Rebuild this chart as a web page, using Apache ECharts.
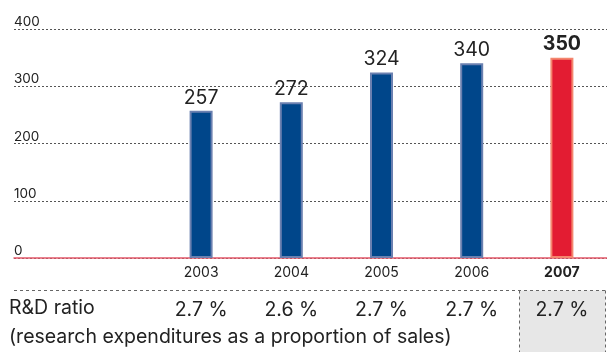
<!DOCTYPE html>
<html>
<head>
<meta charset="utf-8">
<script src="https://cdn.jsdelivr.net/npm/echarts@6/dist/echarts.min.js"></script>
<style>
  html, body { margin: 0; padding: 0; background: #ffffff; }
  #chart { width: 607px; height: 352px; }
</style>
</head>
<body>
<div id="chart"></div>
<script>
// R&D expenditure by year, with the R&D ratio underneath
const years = ['2003', '2004', '2005', '2006', '2007'];
const rdSpend = [257, 272, 324, 340, 350];
const rdRatio = ['2.7 %', '2.6 %', '2.7 %', '2.7 %', '2.7 %'];
const highlightYear = '2007';
const ratioCaption = 'R&D ratio';
const ratioNote = '(research expenditures as a proportion of sales)';

const FONT = 'Inter, "Liberation Sans", Arial, sans-serif';
const TEXT = '#222222';

const chart = echarts.init(document.getElementById('chart'), null, { renderer: 'canvas' });

const barData = rdSpend.map((v, i) => {
  const hot = years[i] === highlightYear;
  return {
    value: v,
    itemStyle: hot
      ? { color: '#e31c32', borderColor: '#f4866e', borderWidth: 2 }
      : { color: '#00468a', borderColor: '#6b80b0', borderWidth: 2 },
    label: { fontWeight: hot ? 'bold' : 'normal' }
  };
});

chart.setOption({
  animation: false,
  textStyle: { fontFamily: FONT },
  grid: [
    { left: 14, right: 0, top: 29, bottom: 94 },
    { left: 156, width: 455, top: 29, bottom: 94 }
  ],
  xAxis: [
    {
      gridIndex: 0, type: 'category', data: [''],
      axisLine: { show: true, lineStyle: { color: '#e3586a', width: 1.5 } },
      axisTick: { show: false }, axisLabel: { show: false }, splitLine: { show: false }
    },
    {
      gridIndex: 1, type: 'category', data: years,
      axisLine: { show: false }, axisTick: { show: false },
      axisLabel: {
        margin: 8, fontSize: 14, color: TEXT, fontFamily: FONT,
        formatter: (v) => v === highlightYear ? '{b|' + v + '}' : v,
        rich: { b: { fontWeight: 'bold', fontSize: 14, color: TEXT, fontFamily: FONT } }
      }
    },
    {
      gridIndex: 1, type: 'category', data: years, position: 'bottom', offset: 42,
      axisLine: { show: false }, axisTick: { show: false },
      axisLabel: {
        margin: 0, fontSize: 19.5, lineHeight: 20, color: TEXT, fontFamily: FONT,
        formatter: (v, i) => rdRatio[i]
      }
    }
  ],
  yAxis: [
    {
      gridIndex: 0, type: 'value', min: 0, max: 400, interval: 100,
      axisLine: { show: false }, axisTick: { show: false },
      axisLabel: {
        inside: true, margin: 0, fontSize: 13.5, color: TEXT, fontFamily: FONT,
        verticalAlign: 'bottom', padding: [0, 0, 0, 0]
      },
      splitLine: { show: true, lineStyle: { color: '#555555', type: [2, 2], width: 1 } }
    },
    {
      gridIndex: 1, type: 'value', min: 0, max: 400, interval: 100,
      show: false, splitLine: { show: false }
    }
  ],
  series: [
    {
      type: 'bar', xAxisIndex: 1, yAxisIndex: 1,
      data: barData, barWidth: 23,
      label: {
        show: true, position: 'top', distance: 3,
        fontSize: 19.5, color: TEXT, fontFamily: FONT
      }
    }
  ]
});

// Ratio table decorations, placed from the category scale
const band = 455 / years.length;
const hotX = chart.convertToPixel({ xAxisIndex: 1 }, highlightYear);
const boxLeft = Math.round(hotX - band / 2 + 3) + 0.5;
const tableTop = 290.5;
const dashStyle = { stroke: '#666666', lineWidth: 1, lineDash: [3, 3] };

chart.setOption({
  graphic: [
    {
      type: 'rect', z: -10,
      shape: { x: boxLeft, y: tableTop, width: 605.5 - boxLeft, height: 352 - tableTop + 2 },
      style: { fill: '#e7e7e7' }
    },
    { type: 'line', shape: { x1: 14, y1: tableTop, x2: 607, y2: tableTop }, style: dashStyle },
    { type: 'line', shape: { x1: boxLeft, y1: tableTop, x2: boxLeft, y2: 352 }, style: dashStyle },
    { type: 'line', shape: { x1: 605.5, y1: tableTop, x2: 605.5, y2: 352 }, style: dashStyle },
    {
      type: 'text', left: 9, top: 298,
      style: { text: ratioCaption, font: '19.5px ' + FONT, fill: TEXT }
    },
    {
      type: 'text', left: 9, top: 327,
      style: { text: ratioNote, font: '19.5px ' + FONT, fill: TEXT }
    }
  ]
});
</script>
</body>
</html>
